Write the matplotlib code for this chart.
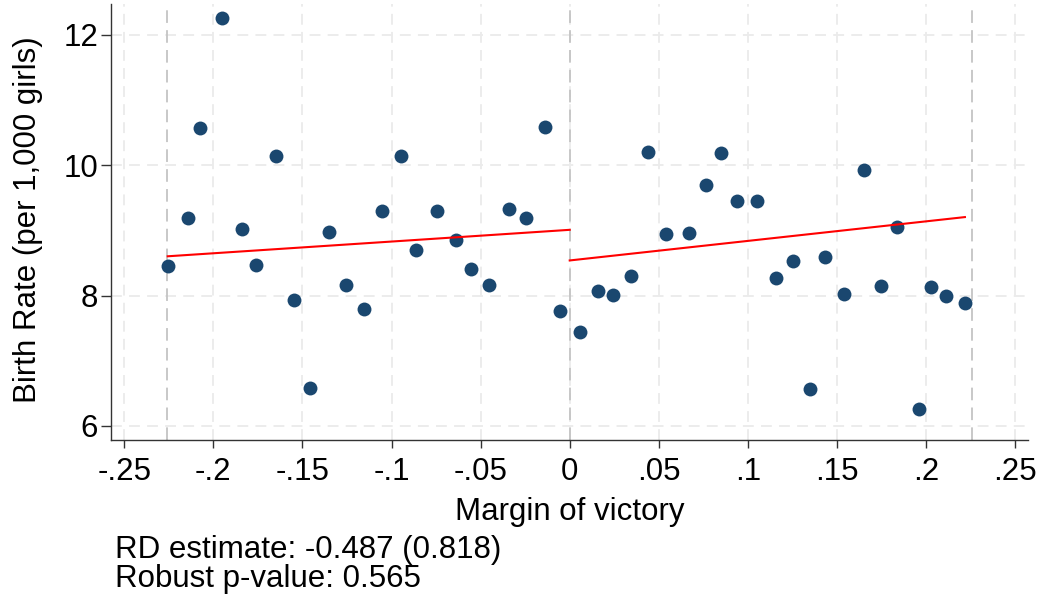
import numpy as np
import matplotlib
matplotlib.use("Agg")
import matplotlib.pyplot as plt

# binned means, left of the cutoff
x_left = [-0.2256, -0.2144, -0.2075, -0.1953, -0.1837, -0.1759, -0.1650, -0.1545,
          -0.1459, -0.1353, -0.1254, -0.1154, -0.1052, -0.0947, -0.0861, -0.0745,
          -0.0638, -0.0554, -0.0453, -0.0342, -0.0247, -0.0140, -0.0053]
y_left = [8.455, 9.19, 10.578, 12.265, 9.023, 8.475, 10.138, 7.933,
          6.588, 8.982, 8.169, 7.795, 9.299, 10.138, 8.696, 9.299,
          8.854, 8.404, 8.169, 9.33, 9.197, 10.583, 7.76]

# binned means, right of the cutoff
x_right = [0.0058, 0.0159, 0.0241, 0.0346, 0.0441, 0.0540, 0.0668, 0.0763,
           0.0851, 0.0941, 0.1053, 0.1158, 0.1255, 0.1349, 0.1431, 0.1538,
           0.1650, 0.1749, 0.1838, 0.1958, 0.2026, 0.2113, 0.2218]
y_right = [7.442, 8.067, 8.015, 8.302, 10.209, 8.941, 8.961, 9.693,
           10.189, 9.452, 9.452, 8.266, 8.527, 6.568, 8.588, 8.021,
           9.928, 8.153, 9.058, 6.265, 8.133, 7.99, 7.883]

# linear fits (intercept at cutoff, slope)
fit_left = [9.01, 1.80]
fit_right = [8.54, 3.00]
bandwidth = 0.226

xticks = [-0.25, -0.2, -0.15, -0.1, -0.05, 0, 0.05, 0.1, 0.15, 0.2, 0.25]
xticklabels = ["-.25", "-.2", "-.15", "-.1", "-.05", "0", ".05", ".1", ".15", ".2", ".25"]
yticks = [6, 8, 10, 12]

rd_est = -0.487
rd_se = 0.818
p_robust = 0.565

plt.rcParams['font.family'] = ['Liberation Sans', 'DejaVu Sans']
navy = '#1a476f'
fs = 22.5

fig = plt.figure(figsize=(10.41, 5.98), dpi=100)
ax = fig.add_axes([110.7/1041, 1-440/598, (1028-110.7)/1041, 436/598])

# grid
for xt in xticks:
    ax.axvline(xt, color='#ebebeb', lw=1.3, ls=(0, (6, 4)), zorder=0)
for yt in yticks:
    ax.axhline(yt, color='#ebebeb', lw=1.3, ls=(0, (6, 4)), zorder=0)

# cutoff and bandwidth lines
for xv in [-bandwidth, 0, bandwidth]:
    ax.axvline(xv, color='#c4c4c4', lw=1.3, ls=(0, (7, 4)), zorder=1)

ax.scatter(x_left, y_left, s=100, color=navy, zorder=3, linewidths=0)
ax.scatter(x_right, y_right, s=100, color=navy, zorder=3, linewidths=0)

xl = np.array([min(x_left), 0])
ax.plot(xl, fit_left[0] + fit_left[1]*xl, color='red', lw=1.5, zorder=4)
xr = np.array([0, max(x_right)])
ax.plot(xr, fit_right[0] + fit_right[1]*xr, color='red', lw=1.5, zorder=4)

ax.set_xlim(-0.2576, 0.2572)
ax.set_ylim(5.785, 12.475)
ax.set_xticks(xticks)
ax.set_xticklabels(xticklabels)
ax.set_yticks(yticks)
for s in ['top', 'right']:
    ax.spines[s].set_visible(False)
for s in ['left', 'bottom']:
    ax.spines[s].set_linewidth(1.0)
    ax.spines[s].set_color('#333333')
ax.tick_params(axis='x', length=6, width=1.0, pad=6, labelsize=fs, color='#333333')
ax.tick_params(axis='y', length=7, width=1.0, pad=2, labelsize=fs, color='#333333')

ax.set_xlabel("Margin of victory", fontsize=fs)
ax.xaxis.set_label_coords(0.5, -0.164)
ax.xaxis.label.set_va('center')
ax.set_ylabel("Birth Rate (per 1,000 girls)", fontsize=fs)
ax.yaxis.set_label_coords(-0.09, 0.505)
ax.yaxis.label.set_va('center')

fig.text(115/1041, 1-558/598, "RD estimate: %.3f (%.3f)" % (rd_est, rd_se), fontsize=fs, va='baseline')
fig.text(115/1041, 1-587/598, "Robust p-value: %.3f" % p_robust, fontsize=fs, va='baseline')

fig.savefig("out.png", dpi=100)
